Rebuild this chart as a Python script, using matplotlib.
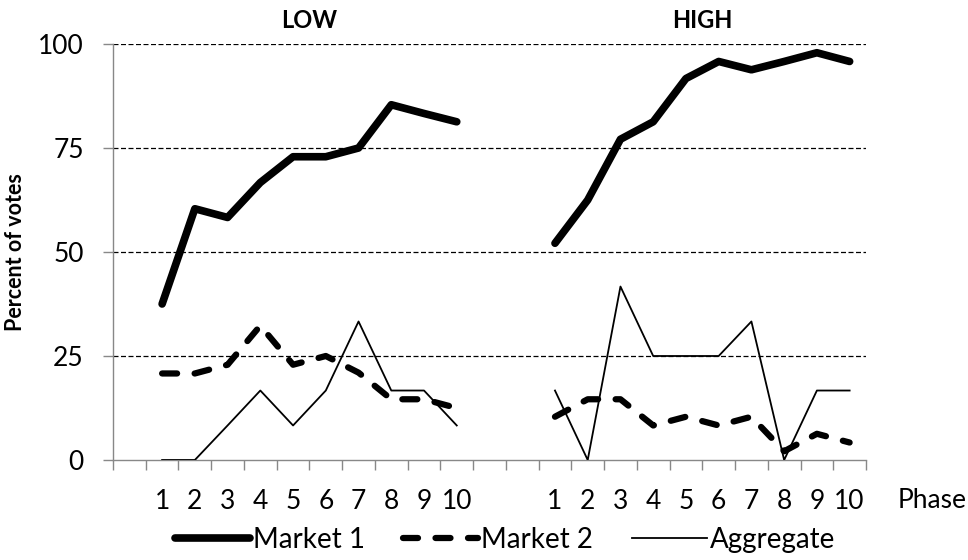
import numpy as np
import matplotlib
matplotlib.use('Agg')
from matplotlib import pyplot as plt
from matplotlib.transforms import blended_transform_factory

plt.rcParams['font.family'] = ['Lato', 'DejaVu Sans']

phases = [str(p) for p in range(1, 11)]

# LOW treatment
low_market1 = [37.5, 60.4, 58.3, 66.7, 72.9, 72.9, 75.0, 85.4, 83.3, 81.3]
low_market2 = [20.8, 20.8, 22.9, 32.3, 22.9, 25.0, 21.0, 14.6, 14.6, 12.5]
low_aggregate = [0.0, 0.0, 8.3, 16.7, 8.3, 16.7, 33.3, 16.7, 16.7, 8.3]

# HIGH treatment
high_market1 = [52.1, 62.5, 77.1, 81.3, 91.7, 95.8, 93.8, 95.8, 97.9, 95.8]
high_market2 = [10.4, 14.6, 14.6, 8.3, 10.4, 8.3, 10.4, 2.1, 6.3, 4.2]
high_aggregate = [16.7, 0.0, 41.7, 25.0, 25.0, 25.0, 33.3, 0.0, 16.7, 16.7]

x_low = np.arange(1, 11)
x_high = np.arange(13, 23)

fig = plt.figure(figsize=(9.68, 5.6), dpi=100)
ax = fig.add_axes([113 / 968, 100 / 560, 753 / 968, 416 / 560])

styles = {
    'Market 1': dict(color='black', lw=5.5, solid_capstyle='round', solid_joinstyle='round'),
    'Market 2': dict(color='black', lw=4.5, dashes=(2.4, 2.8), dash_capstyle='round',
                     dash_joinstyle='round'),
    'Aggregate': dict(color='black', lw=1.3),
}

for xs, m1, m2, agg in [(x_low, low_market1, low_market2, low_aggregate),
                        (x_high, high_market1, high_market2, high_aggregate)]:
    ax.plot(xs, m1, **styles['Market 1'], zorder=3)
    ax.plot(xs, m2, **styles['Market 2'], zorder=3)
    ax.plot(xs, agg, **styles['Aggregate'], zorder=3)

ax.set_xlim(-0.5, 22.5)
ax.set_ylim(0, 100)

ax.set_yticks([0, 25, 50, 75, 100])
for y in [25, 50, 75, 100]:
    ax.axhline(y, color='black', lw=0.9, ls=(0, (4, 2)), zorder=1)

ax.set_xticks(list(x_low) + list(x_high))
ax.set_xticklabels(phases + phases)
ax.set_xticks(np.arange(-0.5, 23, 1), minor=True)
ax.tick_params(axis='x', which='major', length=0, pad=21, labelsize=19)
ax.tick_params(axis='x', which='minor', length=7, color='#888888', width=1)
ax.tick_params(axis='y', length=7, color='#888888', width=1, labelsize=19, pad=14)

for s in ['top', 'right']:
    ax.spines[s].set_visible(False)
for s in ['left', 'bottom']:
    ax.spines[s].set_color('#888888')
    ax.spines[s].set_linewidth(1)

fig.text(16 / 968, 1 - 252 / 560, 'Percent of votes', rotation=90, ha='center',
         va='center', fontsize=15.5, fontweight='bold')

trans = blended_transform_factory(ax.transData, fig.transFigure)
ax.text(5.5, 1 - 21 / 560, 'LOW', transform=trans, ha='center', va='center',
        fontsize=17, fontweight='bold')
ax.text(17.5, 1 - 21 / 560, 'HIGH', transform=trans, ha='center', va='center',
        fontsize=17, fontweight='bold')
fig.text(932 / 968, 1 - 500 / 560, 'Phase', ha='center', va='center', fontsize=19)

handles = [plt.Line2D([], [], **styles[k]) for k in ['Market 1', 'Market 2', 'Aggregate']]
fig.legend(handles, ['Market 1', 'Market 2', 'Aggregate'], loc='center',
           bbox_to_anchor=(505 / 968, 1 - 540 / 560), ncol=3, frameon=False,
           fontsize=20, handlelength=2.7, handletextpad=0.1, columnspacing=1.4,
           borderpad=0)

fig.savefig('out.png', dpi=100)
